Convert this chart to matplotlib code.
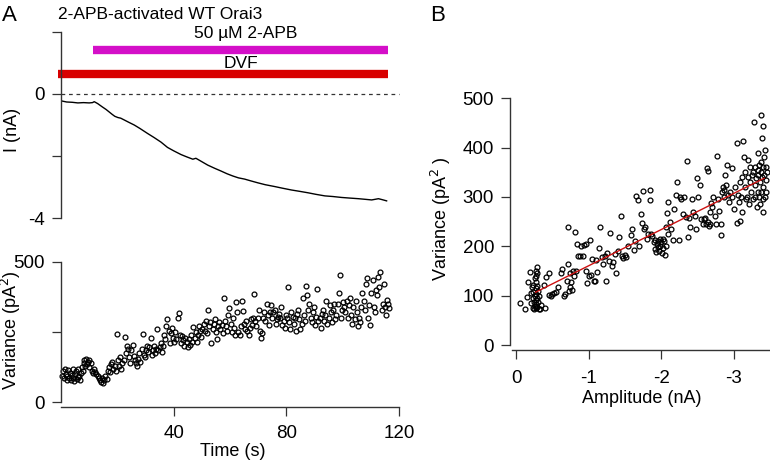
import numpy as np
import matplotlib.pyplot as plt

plt.rcParams['font.family'] = ['Liberation Sans', 'DejaVu Sans']
plt.rcParams['axes.unicode_minus'] = False

# current trace (s, nA)
trace_t = [0.4, 2.0, 4.0, 6.0, 8.0, 10.0, 11.2, 11.8, 13.0, 14.7, 16.0, 17.1, 18.2, 19.1, 20.2, 21.2,
           22.5, 24.0, 26.0, 28.0, 30.7, 33.0, 35.5, 37.8, 40.0, 42.6, 44.5, 46.8, 47.9, 50.0, 52.1,
           54.5, 56.8, 59.0, 61.0, 63.0, 65.2, 67.5, 69.9, 72.5, 75.9, 78.5, 81.8, 84.5, 87.7,
           90.5, 93.7, 96.5, 99.6, 102.5, 105.6, 108.0, 110.3, 111.5, 112.7, 114.0, 115.6]
trace_i = [-0.23, -0.26, -0.27, -0.29, -0.28, -0.29, -0.28, -0.25, -0.31, -0.42, -0.50, -0.58, -0.66,
           -0.72, -0.76, -0.78, -0.84, -0.91, -1.00, -1.11, -1.27, -1.40, -1.55, -1.72, -1.83, -1.95,
           -2.02, -2.10, -2.07, -2.18, -2.29, -2.39, -2.48, -2.57, -2.64, -2.70, -2.74, -2.80, -2.86,
           -2.92, -2.98, -3.03, -3.09, -3.13, -3.18, -3.23, -3.28, -3.30, -3.33, -3.35, -3.37, -3.39,
           -3.41, -3.39, -3.37, -3.40, -3.44]

# variance vs time
time_s = [0.5, 0.8, 1.1, 1.4, 1.7, 2.0, 2.3, 2.6, 2.9, 3.2, 3.5, 3.8, 4.1, 4.4, 4.7, 5.0, 5.3, 5.6, 5.9,
          6.2, 6.5, 6.8, 7.1, 7.4, 7.7, 8.0, 8.3, 8.6, 8.9, 9.2, 9.5, 9.8, 10.1, 10.5,
          11.0, 11.4, 11.8, 12.2, 12.6, 13.0, 13.4, 13.8, 14.2, 14.6, 15.0, 15.4, 15.8, 16.2,
          16.6, 17.0, 17.4, 17.8, 18.2, 18.6, 19.0, 19.4, 19.8, 20.2, 20.6, 21.0, 21.4, 21.8, 22.2,
          22.6, 23.0, 23.4, 23.8, 24.2, 24.6, 25.0, 25.4, 25.8, 26.2, 26.6, 27.0, 27.4, 27.8, 28.2,
          28.6, 29.0, 29.4, 29.8, 30.2, 30.6, 31.0, 31.4, 31.8, 32.2, 32.6, 33.0, 33.4, 33.8, 34.2,
          34.6, 35.0, 35.4, 35.8, 36.2, 36.6, 37.0, 37.4, 37.8, 38.2, 38.6, 39.0, 39.4, 39.8, 40.2,
          40.6, 41.0, 41.4, 41.8, 42.2, 42.6, 43.0, 43.4, 43.8, 44.2, 44.6, 45.0, 45.4, 45.8, 46.2,
          46.6, 47.0, 47.4, 47.8, 48.2, 48.6, 49.0, 49.4, 49.8, 50.2, 50.6, 51.0, 51.4, 51.8, 52.2,
          52.6, 53.0, 53.4, 53.8, 54.2, 54.6, 55.0, 55.4, 55.8, 56.2, 56.6, 57.0, 57.4, 57.8, 58.2,
          58.6, 59.0, 59.4, 59.8, 60.2, 60.6, 61.0, 61.4, 61.8, 62.2, 62.6, 63.0, 63.4, 63.8, 64.2,
          64.6, 65.0, 65.4, 65.8, 66.2, 66.6, 67.0, 67.4, 67.8, 68.2, 68.6, 69.0, 69.4, 69.8, 70.2,
          70.6, 71.0, 71.4, 71.8, 72.2, 72.6, 73.0, 73.4, 73.8, 74.2, 74.6, 75.0, 75.4, 75.8, 76.2,
          76.6, 77.0, 77.4, 77.8, 78.2, 78.6, 79.0, 79.4, 79.8, 80.2, 80.6, 81.0, 81.4, 81.8, 82.2,
          82.6, 83.0, 83.4, 83.8, 84.2, 84.6, 85.0, 85.4, 85.8, 86.2, 86.6, 87.0, 87.4, 87.8, 88.2,
          88.6, 89.0, 89.4, 89.8, 90.2, 90.6, 91.0, 91.4, 91.8, 92.2, 92.6, 93.0, 93.4, 93.8, 94.2,
          94.6, 95.0, 95.4, 95.8, 96.2, 96.6, 97.0, 97.4, 97.8, 98.2, 98.6, 99.0, 99.4, 99.8, 100.2,
          100.6, 101.0, 101.4, 101.8, 102.2, 102.6, 103.0, 103.4, 103.8, 104.2, 104.6, 105.0, 105.4,
          105.8, 106.2, 106.6, 107.0, 107.4, 107.8, 108.2, 108.6, 109.0, 109.4, 109.8, 110.2, 110.6,
          111.0, 111.4, 111.8, 112.2, 112.6, 113.0, 113.4, 113.8, 114.2, 114.6, 115.0, 115.4, 115.8,
          116.2, 116.6]
variance_t = [95, 110, 85, 120, 100, 78, 92, 115, 88, 105, 80, 97, 120, 85, 76, 100, 112, 82, 90,
              118, 95, 79, 104, 125, 110, 140, 150, 130, 155, 135, 145, 125, 150, 140,
              112, 105, 118, 108, 100, 95, 88, 80, 72, 86, 70, 78, 92, 82,
              112, 125, 108, 135, 142, 118, 130, 110, 243, 150, 128, 160, 118, 140, 150,
              231, 175, 200, 190, 160, 140, 185, 205, 165, 150, 140, 130, 155, 175, 145,
              190, 242, 170, 160, 185, 200, 178, 195, 228, 170, 185, 200, 175, 190, 261,
              185, 195, 210, 180, 200, 240, 225, 270, 295, 255, 210, 245, 265, 230, 215,
              250, 225, 300, 316, 240, 210, 235, 220, 200, 230, 215, 195, 225, 205, 240,
              215, 269, 230, 250, 215, 240, 270, 255, 232, 260, 280, 255, 290, 245, 328,
              270, 285, 210, 260, 280, 295, 250, 225, 270, 285, 260, 275, 245, 370, 290,
              270, 255, 310, 335, 280, 250, 300, 265, 240, 358, 320, 250, 240, 270, 360,
              325, 280, 260, 290, 255, 240, 265, 295, 275, 300, 385, 290, 270, 300, 330,
              255, 228, 245, 300, 320, 290, 350, 310, 275, 320, 345, 300, 320, 330, 280,
              295, 305, 315, 300, 340, 275, 290, 265, 310, 300, 409, 285, 260, 320, 305,
              280, 300, 255, 315, 330, 295, 260, 280, 370, 310, 290, 413, 380, 330, 350,
              300, 285, 320, 340, 275, 305, 403, 290, 300, 265, 315, 330, 290, 310, 360,
              280, 300, 345, 320, 285, 330, 350, 295, 310, 350, 390, 453, 300, 330, 355,
              340, 320, 360, 300, 345, 370, 310, 280, 340, 295, 360, 320, 270,
              300, 285, 340, 390, 360, 330, 420, 441, 300, 345, 275, 390, 435,
              340, 320, 400, 380, 445, 410, 465, 330, 350, 420, 340, 310, 365,
              350, 335]

# variance vs amplitude
amplitude = [-0.05, -0.13, -0.15, -0.17, -0.19, -0.20, -0.21, -0.22, -0.23, -0.23, -0.24, -0.24,
             -0.25, -0.25, -0.26, -0.26, -0.26, -0.27, -0.27, -0.27, -0.28, -0.28, -0.28, -0.28,
             -0.28, -0.29, -0.29, -0.29, -0.29, -0.29, -0.30, -0.30, -0.31, -0.32, -0.33, -0.35,
             -0.38, -0.40, -0.42, -0.46, -0.45, -0.48, -0.50, -0.52, -0.55, -0.58, -0.62, -0.63,
             -0.66, -0.68, -0.70, -0.71, -0.72, -0.73, -0.74, -0.75, -0.76, -0.77, -0.79, -0.80,
             -0.81, -0.83, -0.84, -0.86, -0.88, -0.90, -0.92, -0.94, -0.96, -0.97, -0.98, -1.00,
             -1.02, -1.04, -1.05, -1.07, -1.09, -1.10, -1.12, -1.14, -1.16, -1.18, -1.20, -1.22,
             -1.24, -1.26, -1.28, -1.30, -1.32, -1.34, -1.36, -1.38, -1.40, -1.42, -1.44, -1.46,
             -1.48, -1.50, -1.52, -1.55, -1.58, -1.60, -1.62, -1.64, -1.66, -1.68, -1.70, -1.72,
             -1.74, -1.75, -1.76, -1.78, -1.80, -1.82, -1.84, -1.85, -1.86, -1.88, -1.90, -1.91,
             -1.92, -1.93, -1.94, -1.95, -1.96, -1.97, -1.98, -1.99, -2.00, -2.01, -2.02, -2.03,
             -2.04, -2.05, -2.06, -2.07, -2.08, -2.09, -2.10, -2.12, -2.14, -2.16, -2.18, -2.20,
             -2.22, -2.24, -2.26, -2.28, -2.30, -2.32, -2.34, -2.36, -2.37, -2.38, -2.40, -2.42,
             -2.44, -2.46, -2.48, -2.49, -2.51, -2.53, -2.55, -2.57, -2.59, -2.61, -2.62, -2.63,
             -2.64, -2.65, -2.66, -2.67, -2.68, -2.69, -2.70, -2.72, -2.74, -2.76, -2.77, -2.78,
             -2.80, -2.82, -2.83, -2.84, -2.85, -2.86, -2.87, -2.88, -2.89, -2.91, -2.92, -2.94,
             -2.95, -2.97, -2.98, -3.00, -3.02, -3.04, -3.05, -3.06, -3.07, -3.08, -3.09, -3.10,
             -3.11, -3.12, -3.13, -3.14, -3.15, -3.16, -3.17, -3.18, -3.19, -3.20, -3.21, -3.22,
             -3.23, -3.24, -3.25, -3.26, -3.27, -3.28, -3.29, -3.30, -3.30, -3.31, -3.32, -3.33,
             -3.33, -3.34, -3.34, -3.35, -3.35, -3.36, -3.36, -3.37, -3.37, -3.38, -3.38, -3.39,
             -3.39, -3.40, -3.40, -3.40, -3.41, -3.41, -3.42, -3.42, -3.43, -3.43, -3.44, -3.44,
             -3.45, -3.46]
variance_a = [86, 72, 98, 128, 147, 105, 85, 118, 95, 75, 122, 108,
              88, 72, 135, 100, 80, 115, 92, 74, 150, 140, 128, 104,
              84, 158, 145, 120, 96, 78, 110, 88, 72, 99, 72, 82,
              122, 74, 138, 145, 102, 100, 103, 105, 108, 118, 145, 155,
              100, 103, 130, 240, 165, 110, 118, 145, 128, 112, 150, 140,
              230, 150, 205, 180, 180, 200, 180, 202, 205, 150, 125, 140,
              213, 142, 175, 130, 130, 172, 148, 196, 240, 178, 165, 180,
              130, 186, 170, 228, 160, 168, 184, 145, 190, 218, 262, 180,
              176, 183, 178, 200, 222, 235, 192, 210, 302, 294, 200, 265,
              248, 312, 235, 240, 215, 225, 315, 293, 225, 220, 208, 195,
              212, 188, 205, 198, 210, 190, 214, 200, 208, 186, 215, 196,
              210, 182, 200, 240, 268, 290, 225, 250, 235, 212, 275, 305,
              330, 213, 300, 295, 265, 300, 260, 372, 218, 258, 240, 295,
              270, 262, 236, 338, 300, 325, 255, 245, 255, 258, 245, 358,
              250, 352, 242, 270, 245, 288, 280, 300, 262, 245, 383, 295,
              272, 222, 245, 310, 320, 300, 315, 345, 325, 365, 305, 290,
              310, 359, 300, 275, 320, 409, 247, 305, 290, 330, 252, 300,
              340, 270, 414, 382, 320, 350, 295, 300, 375, 340, 285, 360,
              330, 310, 345, 295, 350, 452, 325, 360, 300, 338, 280, 355,
              310, 390, 345, 300, 365, 330, 285, 466, 350, 310, 370, 420,
              340, 295, 360, 270, 443, 320, 380, 345, 300, 395, 335, 360,
              310, 350]

fit_amp = [-0.27, -3.42]
fit_var = [107, 338]

fig = plt.figure(figsize=(7.7, 4.61), dpi=100)

def style(ax):
    for s in ['top', 'right']:
        ax.spines[s].set_visible(False)
    for s in ['left', 'bottom']:
        ax.spines[s].set_color('#333333')
        ax.spines[s].set_linewidth(1.0)
    ax.tick_params(direction='out', length=6.5, width=0.9, color='#333333', labelsize=13.5)
    ax.tick_params(axis='y', pad=5)
    ax.tick_params(axis='x', pad=6)

# A, top: current
ax1 = fig.add_axes([0.0792, 0.5265, 0.439, 0.4047])
style(ax1)
ax1.spines['bottom'].set_visible(False)
ax1.tick_params(axis='x', bottom=False, labelbottom=False)
ax1.plot(trace_t, trace_i, color='black', lw=1.0)
ax1.plot([0, 120], [0, 0], color='#333333', lw=0.9, ls=(0, (3, 3)), clip_on=False)
ax1.plot([-1, 116], [0.63, 0.63], color='#d80000', lw=6, solid_capstyle='butt', clip_on=False)
ax1.plot([11.5, 116], [1.40, 1.40], color='#d40fc8', lw=6, solid_capstyle='butt', clip_on=False)
ax1.text(65.6, 1.94, '50 µM 2-APB', ha='center', va='center', fontsize=12.5)
ax1.text(64, 0.97, 'DVF', ha='center', va='center', fontsize=12.5, zorder=5)
ax1.set_xlim(0, 120)
ax1.set_ylim(-4, 2)
ax1.set_yticks([2, 0, -2, -4])
ax1.set_yticklabels(['', '0', '', '-4'])
ax1.set_ylabel('I (nA)', fontsize=13)
ax1.yaxis.set_label_coords(-0.118, 0.473)

# A, bottom: variance vs time
ax2 = fig.add_axes([0.0792, 0.1273, 0.439, 0.305])
style(ax2)
ax2.spines['bottom'].set_position(('outward', 3.6))
ax2.plot(time_s, variance_t, 'o', mfc='none', mec='black', ms=3.5, mew=0.9, clip_on=False)
ax2.set_xlim(0, 120)
ax2.set_ylim(0, 500)
ax2.set_xticks([40, 80, 120])
ax2.set_yticks([0, 250, 500])
ax2.set_yticklabels(['0', '', '500'])
ax2.set_xlabel('Time (s)', fontsize=13)
ax2.xaxis.set_label_coords(0.509, -0.29)
ax2.set_ylabel('Variance (pA$^2$)', fontsize=13)
ax2.yaxis.set_label_coords(-0.112, 0.51)

# B: variance vs amplitude
ax3 = fig.add_axes([0.6645, 0.2516, 0.3355, 0.5352])
style(ax3)
ax3.spines['bottom'].set_position(('outward', 3.6))
ax3.spines['left'].set_position(('outward', 1.2))
ax3.tick_params(axis='x', pad=8)
ax3.plot(amplitude, variance_a, 'o', mfc='none', mec='black', ms=3.5, mew=0.9, clip_on=False)
ax3.plot(fit_amp, fit_var, color='#cc1111', lw=1.0)
ax3.set_xlim(0.06, -3.5)
ax3.set_ylim(0, 500)
ax3.set_xticks([0, -1, -2, -3])
ax3.set_xticklabels(['0', '-1', '-2', '-3'])
ax3.set_yticks([0, 100, 200, 300, 400, 500])
ax3.set_xlabel('Amplitude (nA)', fontsize=13)
ax3.xaxis.set_label_coords(0.504, -0.182)
ax3.set_ylabel('Variance (pA$^2$ )', fontsize=13)
ax3.yaxis.set_label_coords(-0.227, 0.513)

fig.text(0.003, 0.99, 'A', fontsize=16, va='top', ha='left')
fig.text(0.558, 0.99, 'B', fontsize=16, va='top', ha='left')
fig.text(0.0753, 0.985, '2-APB-activated WT Orai3', fontsize=12.5, va='top', ha='left')

fig.savefig('out.png', dpi=100)
